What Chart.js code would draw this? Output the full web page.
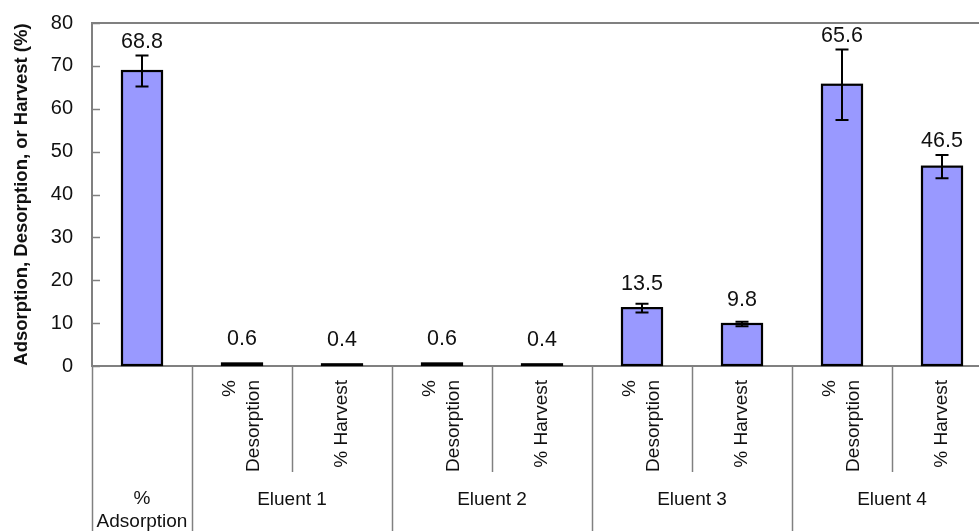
<!DOCTYPE html>
<html>
<head>
<meta charset="utf-8">
<script src="https://cdn.jsdelivr.net/npm/chart.js@4/dist/chart.umd.min.js"></script>
<style>
  html, body { margin: 0; padding: 0; background: #ffffff; overflow: hidden; }
  #wrap { position: relative; width: 992px; height: 531px; }
</style>
</head>
<body>
<div id="wrap"><canvas id="chart" width="992" height="531"></canvas></div>
<script>
// Inner category labels (one per bar); arrays hold wrapped lines
const categoryLabels = [
  ['%', 'Adsorption'],
  ['%', 'Desorption'], ['% Harvest'],
  ['%', 'Desorption'], ['% Harvest'],
  ['%', 'Desorption'], ['% Harvest'],
  ['%', 'Desorption'], ['% Harvest']
];
// Outer grouping row; empty means the bar has no eluent group
const groupLabels = ['', 'Eluent 1', 'Eluent 1', 'Eluent 2', 'Eluent 2', 'Eluent 3', 'Eluent 3', 'Eluent 4', 'Eluent 4'];
// Mean percentages and their error (± half-range)
const meanValues  = [68.8, 0.6, 0.4, 0.6, 0.4, 13.5, 9.8, 65.6, 46.5];
const errorValues = [3.6, 0, 0, 0, 0, 1.0, 0.5, 8.2, 2.7];
// Value axis
const yMin = 0, yMax = 80, yStep = 10;
const yTitle = 'Adsorption, Desorption, or Harvest (%)';

const FONT = '"Liberation Sans", Arial, Helvetica, sans-serif';
const AXIS_GRAY = '#808080';
const BAR_FILL = '#9999FF';

Chart.defaults.font.family = FONT;

// Outline bars, error bars and value labels
const barDecorations = {
  id: 'barDecorations',
  afterDatasetsDraw(chart) {
    const ctx = chart.ctx;
    const y = chart.scales.y;
    const meta = chart.getDatasetMeta(0);
    ctx.save();
    meta.data.forEach((bar, i) => {
      const { x, y: top, base, width } = bar.getProps(['x', 'y', 'base', 'width'], true);
      // bar outline centred on the edge
      ctx.strokeStyle = '#000';
      ctx.lineWidth = 2.2;
      ctx.strokeRect(x - width / 2, top, width, base - top);

      const err = errorValues[i];
      let errTop = top;
      if (err > 0) {
        const yHi = y.getPixelForValue(meanValues[i] + err);
        const yLo = y.getPixelForValue(meanValues[i] - err);
        errTop = yHi;
        const cap = 6.5;
        ctx.lineWidth = 2;
        ctx.beginPath();
        ctx.moveTo(x, yHi); ctx.lineTo(x, yLo);
        ctx.moveTo(x - cap, yHi); ctx.lineTo(x + cap, yHi);
        ctx.moveTo(x - cap, yLo); ctx.lineTo(x + cap, yLo);
        ctx.stroke();
      }
      // value label above bar / error bar
      const ly = Math.min(top - 24, errTop - 14);
      ctx.fillStyle = '#111';
      ctx.font = '21.5px ' + FONT;
      ctx.textAlign = 'center';
      ctx.textBaseline = 'middle';
      ctx.fillText(meanValues[i].toFixed(1), x, ly);
    });
    ctx.restore();
  }
};

// Inner tick marks on the value axis and the two-level category axis
const axisDecorations = {
  id: 'axisDecorations',
  afterDraw(chart) {
    const ctx = chart.ctx;
    const xs = chart.scales.x;
    const ys = chart.scales.y;
    const area = chart.chartArea;
    const zeroY = ys.getPixelForValue(0);
    const bottom = chart.height;
    ctx.save();

    // inward tick marks
    ctx.strokeStyle = AXIS_GRAY;
    ctx.lineWidth = 1.5;
    ys.ticks.forEach(t => {
      const ty = Math.round(ys.getPixelForValue(t.value)) + 0.5;
      ctx.beginPath();
      ctx.moveTo(area.left, ty);
      ctx.lineTo(area.left + 8, ty);
      ctx.stroke();
    });

    // category separators
    const n = meanValues.length;
    const half = (xs.getPixelForValue(1) - xs.getPixelForValue(0)) / 2;
    for (let i = 0; i <= n; i++) {
      const bx = Math.round(i < n ? xs.getPixelForValue(i) - half : xs.getPixelForValue(n - 1) + half) + 0.5;
      const isGroupEdge = i === 0 || i === n || groupLabels[i] !== groupLabels[i - 1];
      ctx.beginPath();
      ctx.moveTo(bx, zeroY);
      ctx.lineTo(bx, isGroupEdge ? bottom : zeroY + 106);
      ctx.stroke();
    }

    ctx.fillStyle = '#111';
    ctx.font = '19px ' + FONT;

    // inner labels
    categoryLabels.forEach((lines, i) => {
      const cx = xs.getPixelForValue(i);
      if (groupLabels[i] === '') {
        ctx.textAlign = 'center';
        ctx.textBaseline = 'middle';
        lines.forEach((ln, k) => ctx.fillText(ln, cx, zeroY + 133 + k * 23));
      } else {
        ctx.save();
        ctx.translate(cx, zeroY + 14);
        ctx.rotate(-Math.PI / 2);
        ctx.textAlign = 'right';
        ctx.textBaseline = 'middle';
        const lh = 24;
        const start = -(lines.length - 1) * lh / 2;
        lines.forEach((ln, k) => ctx.fillText(ln, 0, start + k * lh));
        ctx.restore();
      }
    });

    // group labels
    ctx.textAlign = 'center';
    ctx.textBaseline = 'middle';
    let i = 0;
    while (i < n) {
      const g = groupLabels[i];
      let j = i;
      while (j + 1 < n && groupLabels[j + 1] === g) j++;
      if (g !== '') {
        const cx = (xs.getPixelForValue(i) + xs.getPixelForValue(j)) / 2;
        ctx.fillText(g, cx, zeroY + 134);
      }
      i = j + 1;
    }
    ctx.restore();
  }
};

new Chart(document.getElementById('chart'), {
  type: 'bar',
  data: {
    labels: categoryLabels,
    datasets: [{
      data: meanValues,
      backgroundColor: BAR_FILL,
      borderWidth: 0,
      barThickness: 40
    }]
  },
  options: {
    responsive: false,
    animation: false,
    events: [],
    layout: { padding: { top: 23, right: 0, bottom: 165, left: 0 } },
    plugins: { legend: { display: false }, tooltip: { enabled: false } },
    scales: {
      x: { display: false, offset: true },
      y: {
        min: yMin,
        max: yMax,
        ticks: {
          stepSize: yStep,
          color: '#111',
          font: { size: 20, family: FONT },
          padding: 19
        },
        grid: {
          drawTicks: false,
          drawOnChartArea: true,
          lineWidth: 2,
          color: ctx => (ctx.tick && (ctx.tick.value === yMin || ctx.tick.value === yMax)) ? AXIS_GRAY : 'rgba(0,0,0,0)'
        },
        border: { display: true, color: AXIS_GRAY, width: 2 },
        title: {
          display: true,
          text: yTitle,
          color: '#111',
          font: { size: 18.5, weight: 'bold', family: FONT },
          padding: { top: 11, bottom: 0 }
        },
        afterFit(scale) {
          scale.width = 92;
          scale.paddingTop = 0;
          scale.paddingBottom = 0;
        }
      }
    }
  },
  plugins: [barDecorations, axisDecorations]
});
</script>
</body>
</html>
